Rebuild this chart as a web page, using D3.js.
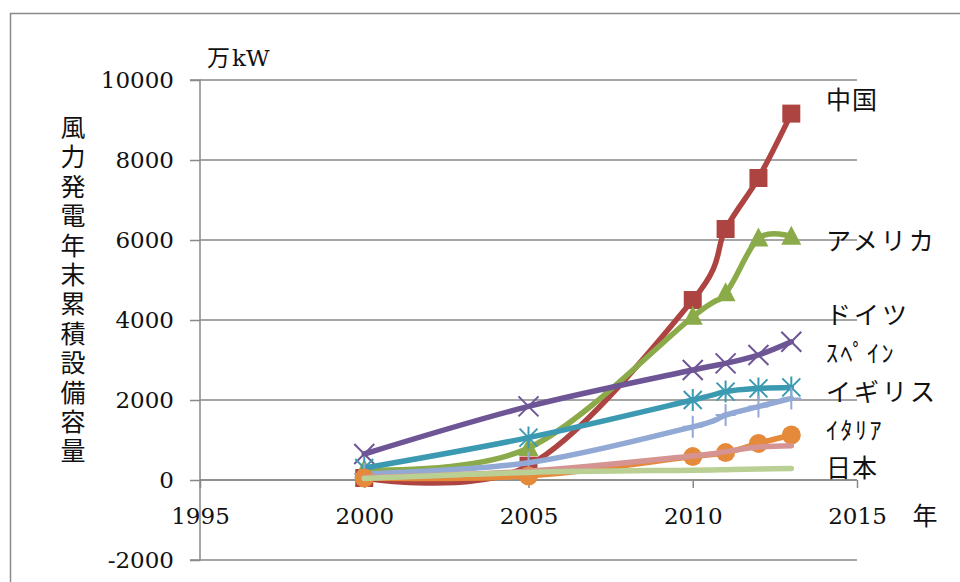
<!DOCTYPE html>
<html>
<head>
<meta charset="utf-8">
<script src="https://cdn.jsdelivr.net/npm/d3@7/dist/d3.min.js"></script>
<style>
  body { margin: 0; background: #fff; }
  svg { display: block; }
</style>
</head>
<body>
<svg id="chart" width="960" height="582"></svg>
<script>
// Cumulative installed wind capacity at year end (万kW)
const years   = [2000, 2005, 2010, 2011, 2012, 2013];
const china   = [50, 360, 4500, 6275, 7550, 9160];
const usa     = [250, 800, 4080, 4670, 6040, 6080];
const germany = [650, 1840, 2750, 2915, 3125, 3455];
const spain   = [300, 1060, 2000, 2210, 2290, 2315];
const india   = [150, 430, 1330, 1625, 1835, 2040];
const uk      = [50, 100, 585, 685, 915, 1125];
const italy   = [60, 220, 600, 710, 825, 858];
const japan   = [40, 190, 245, 258, 272, 290];

const xTicks = [1995, 2000, 2005, 2010, 2015];
const yTicks = [-2000, 0, 2000, 4000, 6000, 8000, 10000];

// Series label texts and the value level each one sits at on the right
const labelTexts  = ["中国", "アメリカ", "ドイツ", "ｽﾍﾟｲﾝ", "イギリス", "ｲﾀﾘｱ", "日本"];
const labelLevels = [9500, 5975, 4125, 3175, 2200, 1250, 300];

const yTitle = "風力発電年末累積設備容量";
const unitText = "万kW";
const yearText = "年";

const series = [
  { values: china,   color: "#AE4441", marker: "square" },
  { values: usa,     color: "#8BAA4A", marker: "triangle" },
  { values: germany, color: "#6E5596", marker: "x" },
  { values: spain,   color: "#3B9AB1", marker: "asterisk" },
  { values: india,   color: "#91A9D4", marker: "plus" },
  { values: uk,      color: "#E5893B", marker: "circle" },
  { values: italy,   color: "#D59492", marker: "none" },
  { values: japan,   color: "#B9CF93", marker: "none" }
];

const svg = d3.select("#chart");
const numFont = "'DejaVu Serif', 'Liberation Serif', serif";
const jpFont = "'Noto Sans CJK JP', 'Noto Sans', sans-serif";
const axisColor = "#898989";

const x = d3.scaleLinear().domain([1995, 2015]).range([200, 857]);
const y = d3.scaleLinear().domain([-2000, 10000]).range([560, 80]);

// outer frame
svg.append("rect")
  .attr("x", 10.5).attr("y", 13.5)
  .attr("width", 1000).attr("height", 700)
  .attr("fill", "none").attr("stroke", "#8a8a8a").attr("stroke-width", 1.5);

// horizontal gridlines
svg.append("g").selectAll("line")
  .data(yTicks)
  .join("line")
  .attr("x1", x(1995)).attr("x2", x(2015))
  .attr("y1", d => y(d)).attr("y2", d => y(d))
  .attr("stroke", axisColor).attr("stroke-width", 1.5);

// y axis
const yAxis = d3.axisLeft(y).tickValues(yTicks).tickSize(10).tickPadding(16).tickFormat(d => String(d));
const gy = svg.append("g").attr("transform", `translate(${x(1995)},0)`).call(yAxis);
gy.select(".domain").attr("stroke", axisColor).attr("stroke-width", 1.5).attr("d", `M-10,${y(10000)}H0V${y(-2000)}H-10`);
gy.selectAll(".tick line").attr("stroke", axisColor).attr("stroke-width", 1.5);
gy.selectAll(".tick text")
  .attr("font-family", numFont).attr("font-size", 23).attr("fill", "#111");

// x axis crossing at zero
const xAxis = d3.axisBottom(x).tickValues(xTicks).tickSize(8).tickPadding(20).tickFormat(d => String(d));
const gx = svg.append("g").attr("transform", `translate(0,${y(0)})`).call(xAxis);
gx.select(".domain").attr("stroke", axisColor).attr("stroke-width", 1.5).attr("d", `M${x(1995)},0H${x(2015)}`);
gx.selectAll(".tick line").attr("stroke", axisColor).attr("stroke-width", 1.5);
gx.selectAll(".tick text")
  .attr("font-family", numFont).attr("font-size", 23).attr("fill", "#111");

// lines and markers
const line = d3.line()
  .x((d, i) => x(years[i]))
  .y(d => y(d))
  .curve(d3.curveCardinal.tension(0));

const plot = svg.append("g");
series.forEach(s => {
  const g = plot.append("g");
  g.append("path")
    .datum(s.values)
    .attr("d", line)
    .attr("fill", "none")
    .attr("stroke", s.color)
    .attr("stroke-width", 5.5)
    .attr("stroke-linejoin", "round")
    .attr("stroke-linecap", "round");

  const pts = g.selectAll("g.pt")
    .data(s.values)
    .join("g")
    .attr("class", "pt")
    .attr("transform", (d, i) => `translate(${x(years[i])},${y(d)})`);

  if (s.marker === "square") {
    pts.append("rect").attr("x", -9).attr("y", -9).attr("width", 18).attr("height", 18)
      .attr("fill", s.color);
  } else if (s.marker === "triangle") {
    pts.append("path").attr("d", "M0,-11L10,8L-10,8Z").attr("fill", s.color);
  } else if (s.marker === "circle") {
    pts.append("circle").attr("r", 9.5).attr("fill", s.color);
  } else if (s.marker === "x") {
    pts.append("path").attr("d", "M-10,-10L10,10M-10,10L10,-10")
      .attr("stroke", s.color).attr("stroke-width", 2);
  } else if (s.marker === "asterisk") {
    pts.append("path").attr("d", "M-9,-9L9,9M-9,9L9,-9M0,-11V11")
      .attr("stroke", s.color).attr("stroke-width", 2);
  } else if (s.marker === "plus") {
    pts.append("path").attr("d", "M0,-11V11M-10,0H10")
      .attr("stroke", s.color).attr("stroke-width", 2);
  }
});

// series labels on the right
svg.append("g").selectAll("text")
  .data(labelTexts)
  .join("text")
  .attr("x", 826)
  .attr("y", (d, i) => y(labelLevels[i]))
  .attr("dy", "0.36em")
  .attr("font-family", jpFont)
  .attr("font-size", d => /[\uFF61-\uFF9F]/.test(d) ? 24 : 25)
  .attr("letter-spacing", d => /[\uFF61-\uFF9F]/.test(d) ? 2.5 : (d.length > 2 ? 3 : 1))
  .attr("fill", "#111")
  .text(d => d);

// unit label
svg.append("text")
  .attr("x", 207).attr("y", 66)
  .attr("fill", "#111")
  .call(t => {
    t.append("tspan").attr("font-family", jpFont).attr("font-size", 23).text(unitText.slice(0, 1));
    t.append("tspan").attr("font-family", numFont).attr("font-size", 23).attr("dx", 2).text(unitText.slice(1));
  });

// year label
svg.append("text")
  .attr("x", 925).attr("y", y(0) + 45)
  .attr("text-anchor", "middle")
  .attr("font-family", jpFont).attr("font-size", 25).attr("fill", "#111")
  .text(yearText);

// vertical axis title, set top-to-bottom
svg.append("text")
  .attr("x", 73)
  .attr("y", 115)
  .attr("writing-mode", "vertical-rl")
  .attr("font-family", jpFont).attr("font-size", 25)
  .attr("letter-spacing", 4.4)
  .attr("fill", "#111")
  .text(yTitle);
</script>
</body>
</html>
